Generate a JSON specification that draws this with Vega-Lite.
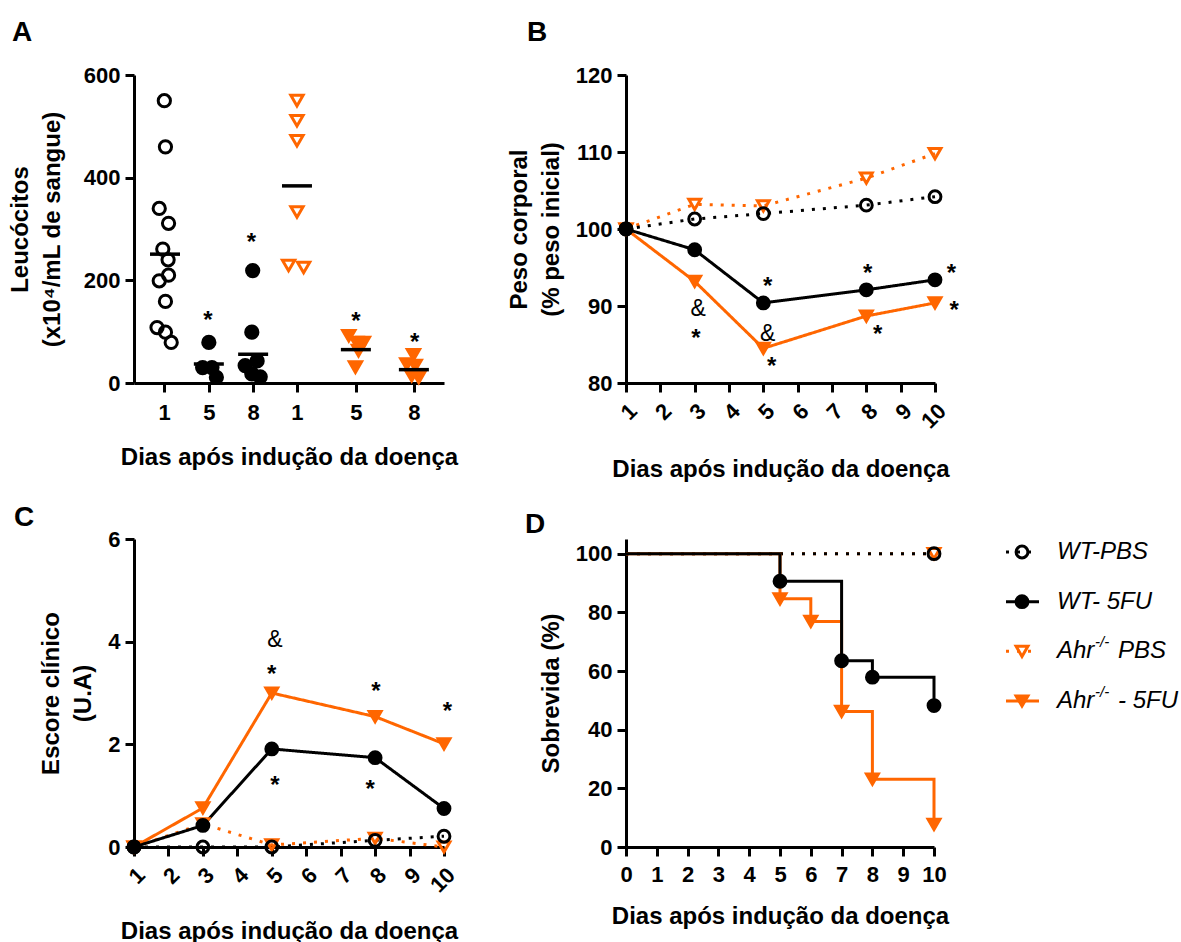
{
"$schema": "https://vega.github.io/schema/vega-lite/v6.json",
"background": "white",
"padding": {"left": 8, "top": 19, "right": 2, "bottom": 2},
"autosize": {"type": "pad"},
"config": {
 "font": "Liberation Sans",
 "view": {"stroke": null},
 "title": {"font": "Liberation Sans", "fontSize": 28, "fontWeight": "bold", "color": "black"},
 "axis": {"domainColor": "black", "domainWidth": 3, "tickColor": "black", "tickWidth": 3, "tickSize": 9,
  "labelFont": "Liberation Sans", "labelFontSize": 22, "labelFontWeight": "bold", "labelColor": "black",
  "titleFont": "Liberation Sans", "titleFontSize": 24, "titleFontWeight": "bold", "titleColor": "black",
  "titleLineHeight": 32, "grid": false, "labelPadding": 5, "titlePadding": 12, "labelFlush": false, "labelOverlap": false}
},
"datasets": {
 "leuco": [
  {"serie": "WT-PBS", "x": 0.685, "valor": 550},
  {"serie": "WT-PBS", "x": 0.71, "valor": 460},
  {"serie": "WT-PBS", "x": 0.57, "valor": 340},
  {"serie": "WT-PBS", "x": 0.78, "valor": 311},
  {"serie": "WT-PBS", "x": 0.65, "valor": 261},
  {"serie": "WT-PBS", "x": 0.77, "valor": 240},
  {"serie": "WT-PBS", "x": 0.78, "valor": 210},
  {"serie": "WT-PBS", "x": 0.57, "valor": 199},
  {"serie": "WT-PBS", "x": 0.71, "valor": 159},
  {"serie": "WT-PBS", "x": 0.52, "valor": 108},
  {"serie": "WT-PBS", "x": 0.71, "valor": 99},
  {"serie": "WT-PBS", "x": 0.84, "valor": 79},
  {"serie": "WT-5FU", "x": 1.69, "valor": 79},
  {"serie": "WT-5FU", "x": 1.55, "valor": 30},
  {"serie": "WT-5FU", "x": 1.76, "valor": 30},
  {"serie": "WT-5FU", "x": 1.86, "valor": 11},
  {"serie": "WT-5FU", "x": 2.68, "valor": 219},
  {"serie": "WT-5FU", "x": 2.66, "valor": 99},
  {"serie": "WT-5FU", "x": 2.78, "valor": 43},
  {"serie": "WT-5FU", "x": 2.51, "valor": 34},
  {"serie": "WT-5FU", "x": 2.66, "valor": 18},
  {"serie": "WT-5FU", "x": 2.85, "valor": 12},
  {"serie": "Ahr PBS", "x": 3.68, "valor": 550},
  {"serie": "Ahr PBS", "x": 3.68, "valor": 511},
  {"serie": "Ahr PBS", "x": 3.68, "valor": 472},
  {"serie": "Ahr PBS", "x": 3.68, "valor": 333},
  {"serie": "Ahr PBS", "x": 3.49, "valor": 229},
  {"serie": "Ahr PBS", "x": 3.83, "valor": 225},
  {"serie": "Ahr 5FU", "x": 4.85, "valor": 92},
  {"serie": "Ahr 5FU", "x": 5.03, "valor": 79},
  {"serie": "Ahr 5FU", "x": 5.18, "valor": 79},
  {"serie": "Ahr 5FU", "x": 5.07, "valor": 63},
  {"serie": "Ahr 5FU", "x": 5.0, "valor": 31},
  {"serie": "Ahr 5FU", "x": 6.31, "valor": 55},
  {"serie": "Ahr 5FU", "x": 6.16, "valor": 37},
  {"serie": "Ahr 5FU", "x": 6.35, "valor": 34},
  {"serie": "Ahr 5FU", "x": 6.27, "valor": 14},
  {"serie": "Ahr 5FU", "x": 6.43, "valor": 11}
 ],
 "leuco_media": [
  {"serie": "WT-PBS", "x": 0.70, "media": 251},
  {"serie": "WT-5FU", "x": 1.69, "media": 37},
  {"serie": "WT-5FU", "x": 2.69, "media": 56},
  {"serie": "Ahr PBS", "x": 3.68, "media": 384},
  {"serie": "Ahr 5FU", "x": 5.01, "media": 65},
  {"serie": "Ahr 5FU", "x": 6.32, "media": 26}
 ],
 "peso": [
  {"serie": "Ahr PBS", "dia": 1, "valor": 100},
  {"serie": "Ahr PBS", "dia": 3, "valor": 103.2},
  {"serie": "Ahr PBS", "dia": 5, "valor": 103.0},
  {"serie": "Ahr PBS", "dia": 8, "valor": 106.6},
  {"serie": "Ahr PBS", "dia": 10, "valor": 109.8},
  {"serie": "Ahr 5FU", "dia": 1, "valor": 100},
  {"serie": "Ahr 5FU", "dia": 3, "valor": 93.2},
  {"serie": "Ahr 5FU", "dia": 5, "valor": 84.5},
  {"serie": "Ahr 5FU", "dia": 8, "valor": 88.7},
  {"serie": "Ahr 5FU", "dia": 10, "valor": 90.4},
  {"serie": "WT-PBS", "dia": 1, "valor": 100},
  {"serie": "WT-PBS", "dia": 3, "valor": 101.3},
  {"serie": "WT-PBS", "dia": 5, "valor": 102.0},
  {"serie": "WT-PBS", "dia": 8, "valor": 103.1},
  {"serie": "WT-PBS", "dia": 10, "valor": 104.2},
  {"serie": "WT-5FU", "dia": 1, "valor": 100},
  {"serie": "WT-5FU", "dia": 3, "valor": 97.3},
  {"serie": "WT-5FU", "dia": 5, "valor": 90.4},
  {"serie": "WT-5FU", "dia": 8, "valor": 92.1},
  {"serie": "WT-5FU", "dia": 10, "valor": 93.4}
 ],
 "escore": [
  {"serie": "Ahr PBS", "dia": 1, "valor": 0},
  {"serie": "Ahr PBS", "dia": 3, "valor": 0.45},
  {"serie": "Ahr PBS", "dia": 5, "valor": 0.04},
  {"serie": "Ahr PBS", "dia": 8, "valor": 0.17},
  {"serie": "Ahr PBS", "dia": 10, "valor": 0},
  {"serie": "Ahr 5FU", "dia": 1, "valor": 0},
  {"serie": "Ahr 5FU", "dia": 3, "valor": 0.76},
  {"serie": "Ahr 5FU", "dia": 5, "valor": 3.0},
  {"serie": "Ahr 5FU", "dia": 8, "valor": 2.54},
  {"serie": "Ahr 5FU", "dia": 10, "valor": 2.01},
  {"serie": "WT-PBS", "dia": 1, "valor": 0},
  {"serie": "WT-PBS", "dia": 3, "valor": 0},
  {"serie": "WT-PBS", "dia": 5, "valor": 0},
  {"serie": "WT-PBS", "dia": 8, "valor": 0.13},
  {"serie": "WT-PBS", "dia": 10, "valor": 0.21},
  {"serie": "WT-5FU", "dia": 1, "valor": 0},
  {"serie": "WT-5FU", "dia": 3, "valor": 0.42},
  {"serie": "WT-5FU", "dia": 5, "valor": 1.91},
  {"serie": "WT-5FU", "dia": 8, "valor": 1.74},
  {"serie": "WT-5FU", "dia": 10, "valor": 0.75}
 ],
 "sobrev": [
  {"serie": "Ahr PBS", "dia": 0, "valor": 100},
  {"serie": "Ahr PBS", "dia": 10, "valor": 100},
  {"serie": "WT-PBS", "dia": 0, "valor": 100},
  {"serie": "WT-PBS", "dia": 10, "valor": 100},
  {"serie": "Ahr 5FU", "dia": 0, "valor": 100},
  {"serie": "Ahr 5FU", "dia": 5, "valor": 84.6},
  {"serie": "Ahr 5FU", "dia": 6, "valor": 76.9},
  {"serie": "Ahr 5FU", "dia": 7, "valor": 46.2},
  {"serie": "Ahr 5FU", "dia": 8, "valor": 23.1},
  {"serie": "Ahr 5FU", "dia": 10, "valor": 7.7},
  {"serie": "WT-5FU", "dia": 0, "valor": 100},
  {"serie": "WT-5FU", "dia": 5, "valor": 90.6},
  {"serie": "WT-5FU", "dia": 7, "valor": 63.5},
  {"serie": "WT-5FU", "dia": 8, "valor": 57.9},
  {"serie": "WT-5FU", "dia": 10, "valor": 48.2}
 ],
 "anot": [
  {"painel": "A", "x": 1.67, "valor": 132, "t": "*"},
  {"painel": "A", "x": 2.65, "valor": 285, "t": "*"},
  {"painel": "A", "x": 5.01, "valor": 131, "t": "*"},
  {"painel": "A", "x": 6.34, "valor": 90, "t": "*"},
  {"painel": "B", "dia": 5.13, "valor": 93.2, "t": "*"},
  {"painel": "B", "dia": 8.04, "valor": 94.9, "t": "*"},
  {"painel": "B", "dia": 10.48, "valor": 94.9, "t": "*"},
  {"painel": "B", "dia": 3.1, "valor": 89.8, "t": "&"},
  {"painel": "B", "dia": 3.04, "valor": 86.5, "t": "*"},
  {"painel": "B", "dia": 5.13, "valor": 86.5, "t": "&"},
  {"painel": "B", "dia": 5.24, "valor": 82.9, "t": "*"},
  {"painel": "B", "dia": 8.33, "valor": 87.0, "t": "*"},
  {"painel": "B", "dia": 10.56, "valor": 90.1, "t": "*"},
  {"painel": "C", "dia": 5.09, "valor": 4.05, "t": "&"},
  {"painel": "C", "dia": 5.0, "valor": 3.47, "t": "*"},
  {"painel": "C", "dia": 8.02, "valor": 3.14, "t": "*"},
  {"painel": "C", "dia": 10.1, "valor": 2.75, "t": "*"},
  {"painel": "C", "dia": 5.09, "valor": 1.30, "t": "*"},
  {"painel": "C", "dia": 7.86, "valor": 1.23, "t": "*"}
 ],
 "legenda": [
  {"serie": "WT-PBS", "t1": "WT-PBS", "t2": "", "t3": ""},
  {"serie": "WT-5FU", "t1": "WT- 5FU", "t2": "", "t3": ""},
  {"serie": "Ahr PBS", "t1": "Ahr", "t2": "-/-", "t3": " PBS"},
  {"serie": "Ahr 5FU", "t1": "Ahr", "t2": "-/-", "t3": "- 5FU"}
 ]
},
"columns": 2,
"spacing": {"row": 156, "column": 182},
"bounds": "flush",
"concat": [
 {
  "width": 310, "height": 308,
  "title": {"text": "A", "anchor": "start", "frame": "group", "dx": -122, "dy": 38, "offset": 33, "baseline": "alphabetic"},
  "encoding": {
   "x": {"field": "x", "type": "quantitative", "scale": {"domain": [0, 7], "nice": false, "zero": false},
    "axis": {"values": [0.68, 1.69, 2.69, 3.68, 5.01, 6.32], "labelAngle": 0, "labelPadding": 10, "titlePadding": 22, "labelOverlap": false,
     "labelExpr": "datum.value < 1 ? '1' : datum.value < 2 ? '5' : datum.value < 3 ? '8' : datum.value < 4 ? '1' : datum.value < 5.5 ? '5' : '8'",
     "title": "Dias após indução da doença"}},
   "y": {"field": "valor", "type": "quantitative", "scale": {"domain": [0, 600], "nice": false},
    "axis": {"values": [0, 200, 400, 600], "labelOverlap": false, "titlePadding": 19, "title": ["Leucócitos", "(x10⁴/mL de sangue)"]}}
  },
  "layer": [
   {"data": {"name": "leuco"},
    "mark": {"type": "point", "filled": true, "strokeWidth": 3, "opacity": 1},
    "encoding": {
     "shape": {"field": "serie", "type": "nominal", "legend": null, "scale": {"domain": ["WT-PBS", "WT-5FU", "Ahr PBS", "Ahr 5FU"], "range": ["circle", "circle", "triangle-down", "triangle-down"]}},
     "stroke": {"field": "serie", "type": "nominal", "legend": null, "scale": {"domain": ["WT-PBS", "WT-5FU", "Ahr PBS", "Ahr 5FU"], "range": ["#000000", "#000000", "#FF6600", "#FF6600"]}},
     "fill": {"field": "serie", "type": "nominal", "legend": null, "scale": {"domain": ["WT-PBS", "WT-5FU", "Ahr PBS", "Ahr 5FU"], "range": ["transparent", "#000000", "transparent", "#FF6600"]}},
     "size": {"field": "serie", "type": "ordinal", "legend": null, "scale": {"domain": ["WT-PBS", "WT-5FU", "Ahr PBS", "Ahr 5FU"], "range": [150, 150, 200, 200]}}
    }},
   {"data": {"name": "leuco_media"},
    "mark": {"type": "tick", "orient": "horizontal", "size": 30, "thickness": 3.5, "color": "black", "opacity": 1},
    "encoding": {"y": {"field": "media", "type": "quantitative"}}},
   {"data": {"name": "anot"}, "transform": [{"filter": "datum.painel == 'A'"}],
    "mark": {"type": "text", "fontSize": 24, "fontWeight": "bold", "dy": 6, "color": "black", "align": "center", "baseline": "middle"},
    "encoding": {"text": {"field": "t"}}}
  ]
 },
 {
  "width": 309, "height": 308,
  "title": {"text": "B", "anchor": "start", "frame": "group", "dx": -99, "dy": 38, "offset": 33, "baseline": "alphabetic"},
  "encoding": {
   "x": {"field": "dia", "type": "quantitative", "scale": {"domain": [1, 10], "nice": false, "zero": false},
    "axis": {"values": [1, 2, 3, 4, 5, 6, 7, 8, 9, 10], "labelAngle": -45, "labelPadding": 8, "titlePadding": 25, "labelOverlap": false, "title": "Dias após indução da doença"}},
   "y": {"field": "valor", "type": "quantitative", "scale": {"domain": [80, 120], "nice": false, "zero": false},
    "axis": {"values": [80, 90, 100, 110, 120], "labelOverlap": false, "title": ["Peso corporal", "(% peso inicial)"]}}
  },
  "layer": [
   {"data": {"name": "peso"}, "mark": {"type": "line", "strokeWidth": 3},
    "encoding": {
     "color": {"field": "serie", "type": "nominal", "legend": null, "scale": {"domain": ["WT-PBS", "WT-5FU", "Ahr PBS", "Ahr 5FU"], "range": ["#000000", "#000000", "#FF6600", "#FF6600"]}},
     "strokeDash": {"field": "serie", "type": "nominal", "legend": null, "scale": {"domain": ["WT-PBS", "WT-5FU", "Ahr PBS", "Ahr 5FU"], "range": [[3, 8], [1, 0], [3, 8], [1, 0]]}}
    }},
   {"data": {"name": "peso"}, "mark": {"type": "point", "filled": true, "strokeWidth": 3, "opacity": 1, "size": 140},
    "encoding": {
     "shape": {"field": "serie", "type": "nominal", "legend": null, "scale": {"domain": ["WT-PBS", "WT-5FU", "Ahr PBS", "Ahr 5FU"], "range": ["circle", "circle", "triangle-down", "triangle-down"]}},
     "stroke": {"field": "serie", "type": "nominal", "legend": null, "scale": {"domain": ["WT-PBS", "WT-5FU", "Ahr PBS", "Ahr 5FU"], "range": ["#000000", "#000000", "#FF6600", "#FF6600"]}},
     "fill": {"field": "serie", "type": "nominal", "legend": null, "scale": {"domain": ["WT-PBS", "WT-5FU", "Ahr PBS", "Ahr 5FU"], "range": ["transparent", "#000000", "transparent", "#FF6600"]}}
    }},
   {"data": {"name": "anot"}, "transform": [{"filter": "datum.painel == 'B' && datum.t == '*'"}],
    "mark": {"type": "text", "fontSize": 24, "fontWeight": "bold", "dy": 6, "color": "black", "align": "center", "baseline": "middle"},
    "encoding": {"text": {"field": "t"}}},
   {"data": {"name": "anot"}, "transform": [{"filter": "datum.painel == 'B' && datum.t == '&'"}],
    "mark": {"type": "text", "fontSize": 23, "dy": 1, "color": "black", "align": "center", "baseline": "middle"},
    "encoding": {"text": {"field": "t"}}}
  ]
 },
 {
  "width": 310, "height": 308,
  "title": {"text": "C", "anchor": "start", "frame": "group", "dx": -120, "dy": 38, "offset": 12, "baseline": "alphabetic"},
  "encoding": {
   "x": {"field": "dia", "type": "quantitative", "scale": {"domain": [1, 10], "nice": false, "zero": false},
    "axis": {"values": [1, 2, 3, 4, 5, 6, 7, 8, 9, 10], "labelAngle": -45, "labelPadding": 8, "titlePadding": 23, "labelOverlap": false, "title": "Dias após indução da doença"}},
   "y": {"field": "valor", "type": "quantitative", "scale": {"domain": [0, 6], "nice": false},
    "axis": {"values": [0, 2, 4, 6], "labelOverlap": false, "title": ["Escore clínico", "(U.A)"]}}
  },
  "layer": [
   {"data": {"name": "escore"}, "mark": {"type": "line", "strokeWidth": 3},
    "encoding": {
     "color": {"field": "serie", "type": "nominal", "legend": null, "scale": {"domain": ["WT-PBS", "WT-5FU", "Ahr PBS", "Ahr 5FU"], "range": ["#000000", "#000000", "#FF6600", "#FF6600"]}},
     "strokeDash": {"field": "serie", "type": "nominal", "legend": null, "scale": {"domain": ["WT-PBS", "WT-5FU", "Ahr PBS", "Ahr 5FU"], "range": [[3, 8], [1, 0], [10, 7], [1, 0]]}}
    }},
   {"data": {"name": "escore"}, "mark": {"type": "point", "filled": true, "strokeWidth": 3, "opacity": 1, "size": 140},
    "encoding": {
     "shape": {"field": "serie", "type": "nominal", "legend": null, "scale": {"domain": ["WT-PBS", "WT-5FU", "Ahr PBS", "Ahr 5FU"], "range": ["circle", "circle", "triangle-down", "triangle-down"]}},
     "stroke": {"field": "serie", "type": "nominal", "legend": null, "scale": {"domain": ["WT-PBS", "WT-5FU", "Ahr PBS", "Ahr 5FU"], "range": ["#000000", "#000000", "#FF6600", "#FF6600"]}},
     "fill": {"field": "serie", "type": "nominal", "legend": null, "scale": {"domain": ["WT-PBS", "WT-5FU", "Ahr PBS", "Ahr 5FU"], "range": ["transparent", "#000000", "transparent", "#FF6600"]}}
    }},
   {"data": {"name": "anot"}, "transform": [{"filter": "datum.painel == 'C' && datum.t == '*'"}],
    "mark": {"type": "text", "fontSize": 24, "fontWeight": "bold", "dy": 6, "color": "black", "align": "center", "baseline": "middle"},
    "encoding": {"text": {"field": "t"}}},
   {"data": {"name": "anot"}, "transform": [{"filter": "datum.painel == 'C' && datum.t == '&'"}],
    "mark": {"type": "text", "fontSize": 23, "dy": 1, "color": "black", "align": "center", "baseline": "middle"},
    "encoding": {"text": {"field": "t"}}}
  ]
 },
 {
  "width": 308, "height": 308,
  "title": {"text": "D", "anchor": "start", "frame": "group", "dx": -101, "dy": 38, "offset": 13, "baseline": "alphabetic"},
  "layer": [
   {"data": {"name": "sobrev"},
    "encoding": {
     "x": {"field": "dia", "type": "quantitative", "scale": {"domain": [0, 10], "nice": false},
      "axis": {"values": [0, 1, 2, 3, 4, 5, 6, 7, 8, 9, 10], "labelAngle": 0, "labelPadding": 8, "titlePadding": 19, "labelOverlap": false, "title": "Dias após indução da doença"}},
     "y": {"field": "valor", "type": "quantitative", "scale": {"domain": [0, 105], "nice": false},
      "axis": {"values": [0, 20, 40, 60, 80, 100], "labelOverlap": false, "title": "Sobrevida (%)"}}
    },
    "layer": [
     {"mark": {"type": "line", "strokeWidth": 3, "interpolate": "step-after"},
      "encoding": {
       "color": {"field": "serie", "type": "nominal", "legend": null, "scale": {"domain": ["WT-PBS", "WT-5FU", "Ahr PBS", "Ahr 5FU"], "range": ["#000000", "#000000", "#FF6600", "#FF6600"]}},
       "strokeDash": {"field": "serie", "type": "nominal", "legend": null, "scale": {"domain": ["WT-PBS", "WT-5FU", "Ahr PBS", "Ahr 5FU"], "range": [[0, 9, 3, 2], [1, 0], [7, 7], [1, 0]]}}
      }},
     {"transform": [{"filter": "datum.dia > 0"}],
      "mark": {"type": "point", "filled": true, "strokeWidth": 3, "opacity": 1, "size": 140},
      "encoding": {
       "shape": {"field": "serie", "type": "nominal", "legend": null, "scale": {"domain": ["WT-PBS", "WT-5FU", "Ahr PBS", "Ahr 5FU"], "range": ["circle", "circle", "triangle-down", "triangle-down"]}},
       "stroke": {"field": "serie", "type": "nominal", "legend": null, "scale": {"domain": ["WT-PBS", "WT-5FU", "Ahr PBS", "Ahr 5FU"], "range": ["#000000", "#000000", "#FF6600", "#FF6600"]}},
       "fill": {"field": "serie", "type": "nominal", "legend": null, "scale": {"domain": ["WT-PBS", "WT-5FU", "Ahr PBS", "Ahr 5FU"], "range": ["transparent", "#000000", "transparent", "#FF6600"]}}
      }}
    ]},
   {"data": {"name": "legenda"},
    "encoding": {
     "y": {"field": "serie", "type": "nominal", "scale": {"type": "point", "domain": ["WT-PBS", "WT-5FU", "Ahr PBS", "Ahr 5FU"], "range": [13, 162], "padding": 0}, "axis": null}
    },
    "layer": [
     {"mark": {"type": "rule", "strokeWidth": 3},
      "encoding": {
       "x": {"datum": 0, "type": "quantitative", "scale": {"domain": [0, 100], "range": [380, 480]}, "axis": null},
       "x2": {"datum": 33},
       "color": {"field": "serie", "type": "nominal", "legend": null, "scale": {"domain": ["WT-PBS", "WT-5FU", "Ahr PBS", "Ahr 5FU"], "range": ["#000000", "#000000", "#FF6600", "#FF6600"]}},
       "strokeDash": {"field": "serie", "type": "nominal", "legend": null, "scale": {"domain": ["WT-PBS", "WT-5FU", "Ahr PBS", "Ahr 5FU"], "range": [[0, 9, 3, 2], [1, 0], [7, 7], [1, 0]]}}
      }},
     {"mark": {"type": "point", "filled": true, "strokeWidth": 3, "opacity": 1, "size": 140},
      "encoding": {
       "x": {"datum": 16, "type": "quantitative"},
       "shape": {"field": "serie", "type": "nominal", "legend": null, "scale": {"domain": ["WT-PBS", "WT-5FU", "Ahr PBS", "Ahr 5FU"], "range": ["circle", "circle", "triangle-down", "triangle-down"]}},
       "stroke": {"field": "serie", "type": "nominal", "legend": null, "scale": {"domain": ["WT-PBS", "WT-5FU", "Ahr PBS", "Ahr 5FU"], "range": ["#000000", "#000000", "#FF6600", "#FF6600"]}},
       "fill": {"field": "serie", "type": "nominal", "legend": null, "scale": {"domain": ["WT-PBS", "WT-5FU", "Ahr PBS", "Ahr 5FU"], "range": ["transparent", "#000000", "transparent", "#FF6600"]}}
      }},
     {"mark": {"type": "text", "fontSize": 24, "fontStyle": "italic", "align": "left", "baseline": "middle", "color": "black"},
      "encoding": {"x": {"datum": 51, "type": "quantitative"}, "text": {"field": "t1"}}},
     {"mark": {"type": "text", "fontSize": 15, "fontStyle": "italic", "align": "left", "baseline": "middle", "color": "black", "dx": 38, "dy": -9},
      "encoding": {"x": {"datum": 51, "type": "quantitative"}, "text": {"field": "t2"}}},
     {"mark": {"type": "text", "fontSize": 24, "fontStyle": "italic", "align": "left", "baseline": "middle", "color": "black", "dx": 61},
      "encoding": {"x": {"datum": 51, "type": "quantitative"}, "text": {"field": "t3"}}}
    ]}
  ],
  "resolve": {"scale": {"x": "independent", "y": "independent"}}
 }
]
}
